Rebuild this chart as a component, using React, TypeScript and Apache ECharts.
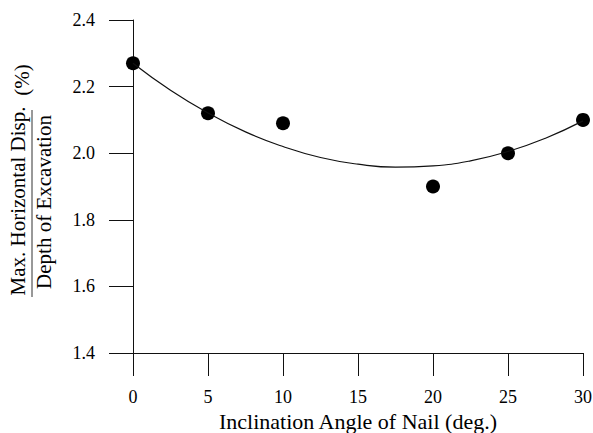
import React, { useEffect, useRef } from "react";
import * as echarts from "echarts";

const xTicks = [0, 5, 10, 15, 20, 25, 30];
const pointX = [0, 5, 10, 20, 25, 30];
const pointY = [2.27, 2.12, 2.09, 1.9, 2.0, 2.1];
const curveX = [0, 2.5, 5, 7.5, 10, 12.5, 15, 17.5, 20, 22.5, 25, 27.5, 30];
const curveY = [2.27, 2.189, 2.121, 2.064, 2.02, 1.987, 1.967, 1.958, 1.962, 1.977, 2.005, 2.045, 2.097];
const yTitleTop = "Max. Horizontal Disp.";
const yTitleBottom = "Depth of Excavation";
const yTitleUnit = "(%)";
const xTitle = "Inclination Angle of Nail (deg.)";

const FONT = "'Liberation Serif', 'DejaVu Serif', serif";

export default function App() {
  const ref = useRef<HTMLDivElement>(null);
  useEffect(() => {
    if (!ref.current) return;
    const chart = echarts.init(ref.current, null, { renderer: "svg" });
    const axisLine = { lineStyle: { color: "#111", width: 1 } };
    chart.setOption({
      animation: false,
      backgroundColor: "#fff",
      grid: { left: 133, right: 10, top: 20, bottom: 80, containLabel: false, outerBoundsMode: "none" },
      xAxis: {
        type: "value",
        min: 0,
        max: 30,
        interval: 5,
        axisLine: { show: true, onZero: false, ...axisLine },
        axisTick: { show: true, inside: false, length: 23, lineStyle: { color: "#111", width: 1 } },
        axisLabel: { margin: 35, fontFamily: FONT, fontSize: 18, color: "#000" },
        splitLine: { show: false },
        name: xTitle,
        nameLocation: "middle",
        nameGap: 50,
        nameTextStyle: { fontFamily: FONT, fontSize: 22, color: "#000" },
      },
      yAxis: {
        type: "value",
        min: 1.4,
        max: 2.4,
        interval: 0.2,
        axisLine: { show: true, onZero: false, ...axisLine },
        axisTick: { show: true, inside: false, length: 24, lineStyle: { color: "#111", width: 1 } },
        axisLabel: {
          margin: 38,
          fontFamily: FONT,
          fontSize: 18,
          color: "#000",
          formatter: (v: number) => v.toFixed(1),
        },
        splitLine: { show: false },
      },
      graphic: [
        {
          type: "text",
          x: 18,
          y: 201,
          rotation: Math.PI / 2,
          style: { text: yTitleTop, font: `21px ${FONT}`, fill: "#000", textAlign: "center", textVerticalAlign: "middle" },
        },
        {
          type: "text",
          x: 44,
          y: 202,
          rotation: Math.PI / 2,
          style: { text: yTitleBottom, font: `21px ${FONT}`, fill: "#000", textAlign: "center", textVerticalAlign: "middle" },
        },
        {
          type: "line",
          shape: { x1: 32, y1: 110, x2: 32, y2: 297 },
          style: { stroke: "#333", lineWidth: 1 },
        },
        {
          type: "text",
          x: 22,
          y: 80,
          rotation: Math.PI / 2,
          style: { text: yTitleUnit, font: `21px ${FONT}`, fill: "#000", textAlign: "center", textVerticalAlign: "middle" },
        },
      ],
      series: [
        {
          type: "line",
          data: curveX.map((x, i) => [x, curveY[i]]),
          smooth: true,
          showSymbol: false,
          symbol: "none",
          lineStyle: { color: "#111", width: 1.2 },
          silent: true,
        },
        {
          type: "scatter",
          data: pointX.map((x, i) => [x, pointY[i]]),
          symbol: "circle",
          symbolSize: 14,
          itemStyle: { color: "#000", opacity: 1 },
        },
      ],
    });
    return () => chart.dispose();
  }, []);
  return <div ref={ref} style={{ width: 593, height: 433, position: "fixed", left: 0, top: 0 }} />;
}
